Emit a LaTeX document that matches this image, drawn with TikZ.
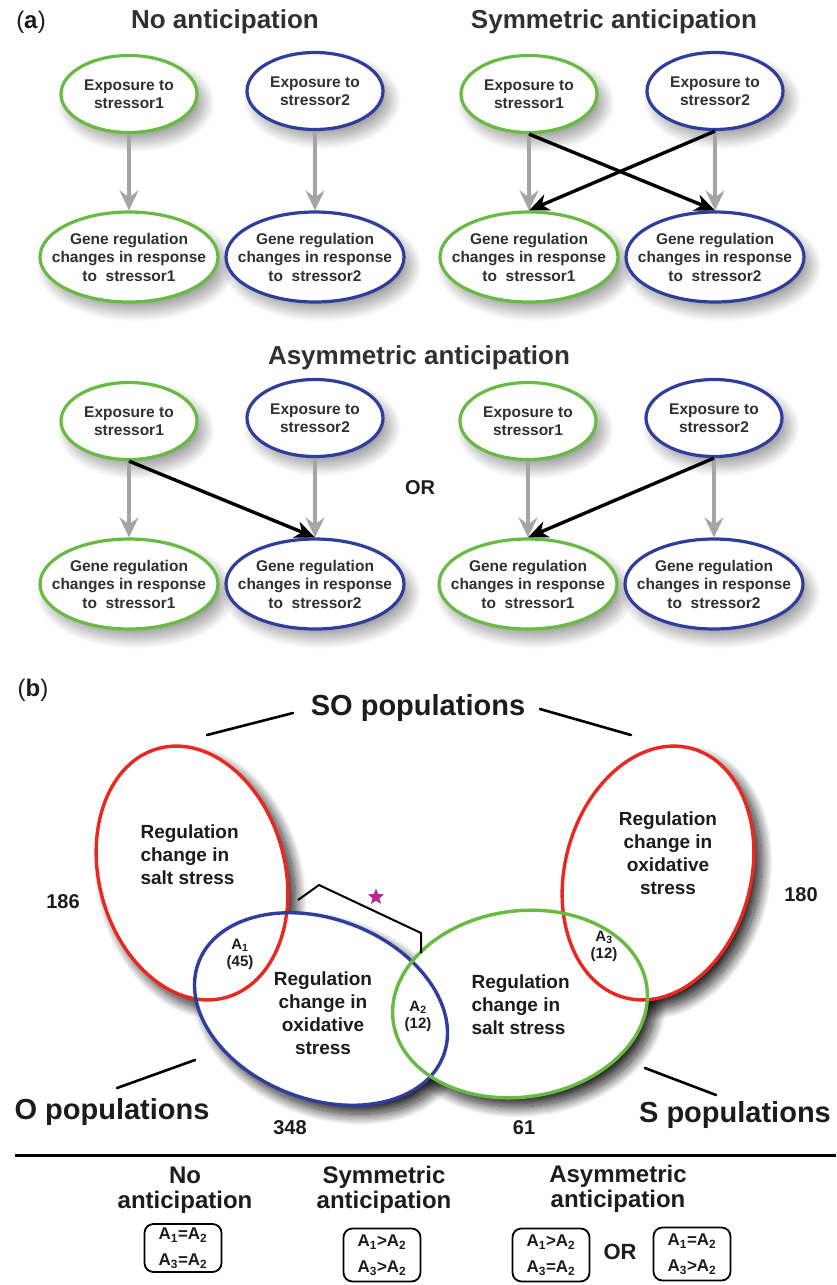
\documentclass[tikz,border=0pt]{standalone}
\usepackage{fontspec}
\setmainfont{Liberation Sans}
\usetikzlibrary{shapes.geometric, arrows.meta, shadows.blur}
\definecolor{stressgreen}{RGB}{104, 186, 66}
\definecolor{stressblue}{RGB}{46, 62, 156}
\definecolor{stressred}{RGB}{234, 40, 32}
\definecolor{arrowgrey}{RGB}{165, 165, 165}
\definecolor{textgrey}{RGB}{48, 48, 48}
\definecolor{textdark}{RGB}{28, 28, 28}
\definecolor{starpink}{RGB}{185, 40, 150}
\newcommand{\setfs}[2]{\fontsize{#1}{#2}\selectfont}

\tikzset{
  softshadow/.style={blur shadow={shadow xshift=7pt, shadow yshift=-9pt, shadow blur radius=11pt, shadow blur steps=30, shadow opacity=40}},
  darkshadow/.style={blur shadow={shadow xshift=8pt, shadow yshift=-9pt, shadow blur radius=11pt, shadow blur steps=40, shadow opacity=90}},
  expo/.style={ellipse, draw, line width=3.2pt, fill=white, softshadow,
    minimum width=136pt, minimum height=77pt, inner xsep=-16pt, inner ysep=0pt,
    align=center, font=\bfseries\setfs{15.5}{18.5}, text=textgrey},
  gene/.style={expo, minimum width=178pt, minimum height=90pt},
  greyarrow/.style={draw=arrowgrey, line width=3.4pt, -{Stealth[length=20pt, width=19pt, inset=7pt]}},
  blackarrow/.style={draw=black, line width=3.4pt, -{Stealth[length=20pt, width=17pt, inset=6pt]}},
  heading/.style={font=\bfseries\setfs{26}{30}, text=textgrey},
  vennline/.style={line width=3.4pt},
  venntext/.style={font=\bfseries\setfs{19}{23}, text=textdark},
  overlap/.style={font=\bfseries\setfs{15}{17}, text=textdark, align=center},
  count/.style={font=\bfseries\setfs{20}{22}, text=textdark},
  popname/.style={font=\bfseries\setfs{29}{32}, text=textdark},
  leader/.style={line width=2.6pt, line cap=round},
  caselabel/.style={font=\bfseries\setfs{24}{25.5}, text=textdark, align=center},
  relbox/.style={draw, line width=1.8pt, rounded corners=9pt, minimum width=77pt,
    minimum height=53pt, inner sep=2pt, align=center, font=\bfseries\setfs{17}{26}, text=textdark}
}

\begin{document}
\begin{tikzpicture}[x=1pt, y=-1pt]
  \useasboundingbox (0,0) rectangle (836,1285);

  % ---- (a) ----
  \node[font=\setfs{24}{26}, text=textdark] (lab-a) at (31,22) {(\textbf{a})};
  \node[heading] (t-no) at (225,22) {No anticipation};
  \node[heading] (t-sym) at (614,22) {Symmetric anticipation};
  \node[heading] (t-asym) at (419,358) {Asymmetric anticipation};
  \node[font=\bfseries\setfs{20}{22}, text=textdark] (or-a) at (420,488) {OR};

  \foreach \g/\dx/\dy in {no/0/0, sym/400/0, asl/0/327, asr/399/327} {
    \begin{scope}[shift={(\dx,\dy)}]
      \node[expo, draw=stressgreen] (\g-e1) at (129,94) {Exposure to\\stressor1};
      \node[expo, draw=stressblue] (\g-e2) at (315,91) {Exposure to\\stressor2};
      \node[gene, draw=stressgreen] (\g-g1) at (129,257) {Gene regulation\\changes in response\\to~~stressor1};
      \node[gene, draw=stressblue] (\g-g2) at (315,257) {Gene regulation\\changes in response\\to~~stressor2};
    \end{scope}
  }

  \foreach \g in {no, sym, asl, asr} {
    \draw[greyarrow] (\g-e1.south) -- (\g-e1.south |- \g-g1.north);
    \draw[greyarrow] (\g-e2.south) -- (\g-e2.south |- \g-g2.north);
  }
  \draw[blackarrow] (sym-e1.south) -- (sym-g2.north);
  \draw[blackarrow] (sym-e2.south) -- (sym-g1.north);
  \draw[blackarrow] (asl-e1.south) -- (asl-g2.north);
  \draw[blackarrow] (asr-e2.south) -- (asr-g1.north);

  % ---- (b) ----
  \def\saltleft{(192,873) ellipse [x radius=93pt, y radius=129pt, rotate=15]}
  \def\oxiright{(658,873) ellipse [x radius=93pt, y radius=129pt, rotate=-15]}
  \def\oxipop{(321,1009) ellipse [x radius=131pt, y radius=90pt, rotate=-21]}
  \def\saltpop{(520,1004) ellipse [x radius=128pt, y radius=93pt, rotate=8]}

  \path[darkshadow] \saltleft;
  \path[darkshadow] \oxiright;
  \path[darkshadow] \oxipop;
  \path[darkshadow] \saltpop;
  \fill[white] \saltleft;
  \fill[white] \oxiright;
  \fill[white] \oxipop;
  \fill[white] \saltpop;
  \draw[vennline, stressred] \saltleft;
  \draw[vennline, stressred] \oxiright;
  \draw[vennline, stressblue] \oxipop;
  \draw[vennline, stressgreen] \saltpop;

  \node[font=\setfs{24}{26}, text=textdark] (lab-b) at (33,690) {(\textbf{b})};

  \node[venntext, align=left, anchor=west] (v-saltl) at (137,855) {Regulation\\change in\\salt stress};
  \node[venntext, align=center] (v-oxir) at (668,853) {Regulation\\change in\\oxidative\\stress};
  \node[venntext, align=center] (v-oxi) at (323,1013) {Regulation\\change in\\oxidative\\stress};
  \node[venntext, align=left, anchor=west] (v-salt) at (468,1005) {Regulation\\change in\\salt stress};

  \node[overlap] (a1) at (240,954) {A\textsubscript{1}\\(45)};
  \node[overlap] (a2) at (418,1016) {A\textsubscript{2}\\(12)};
  \node[overlap] (a3) at (604,946) {A\textsubscript{3}\\(12)};

  \node[count] (n186) at (63,902) {186};
  \node[count] (n180) at (801,895) {180};
  \node[count] (n348) at (290,1128) {348};
  \node[count] (n61) at (524,1128) {61};

  \node[popname] (so-pop) at (418,708) {SO populations};
  \node[popname] (o-pop) at (112,1112) {O populations};
  \node[popname] (s-pop) at (735,1115) {S populations};

  \coordinate (so-l1) at (207,735);
  \coordinate (so-l2) at (293,713);
  \coordinate (so-r1) at (540,709);
  \coordinate (so-r2) at (631,735);
  \coordinate (o-l1) at (117,1088);
  \coordinate (o-l2) at (195,1060);
  \coordinate (s-l1) at (645,1068);
  \coordinate (s-l2) at (716,1095);
  \draw[leader] (so-l1) -- (so-l2);
  \draw[leader] (so-r1) -- (so-r2);
  \draw[leader] (o-l1) -- (o-l2);
  \draw[leader] (s-l1) -- (s-l2);

  % bracket over A1 / A2
  \draw[line width=2pt] (298,900) -- (319,885) -- (421,933) -- (421,953);
  \node[star, star points=5, star point ratio=2.3, fill=starpink, minimum size=17pt, inner sep=0pt] (sig) at (376,897) {};

  % ---- cases ----
  \draw[line width=3pt] (15,1155) -- (836,1155);
  \node[caselabel] (c-no) at (185,1190) {No\\anticipation};
  \node[caselabel] (c-sym) at (384,1190) {Symmetric\\anticipation};
  \node[caselabel] (c-asym) at (618,1189) {Asymmetric\\anticipation};

  \node[relbox, minimum height=48pt] (r-no) at (183,1248) {A\textsubscript{1}=A\textsubscript{2}\\A\textsubscript{3}=A\textsubscript{2}};
  \node[relbox] (r-sym) at (382,1255) {A\textsubscript{1}>A\textsubscript{2}\\A\textsubscript{3}>A\textsubscript{2}};
  \node[relbox] (r-asa) at (551,1255) {A\textsubscript{1}>A\textsubscript{2}\\A\textsubscript{3}=A\textsubscript{2}};
  \node[font=\bfseries\setfs{22}{24}, text=textdark] (or-b) at (620,1252) {OR};
  \node[relbox] (r-asb) at (692,1254) {A\textsubscript{1}=A\textsubscript{2}\\A\textsubscript{3}>A\textsubscript{2}};
\end{tikzpicture}
\end{document}
